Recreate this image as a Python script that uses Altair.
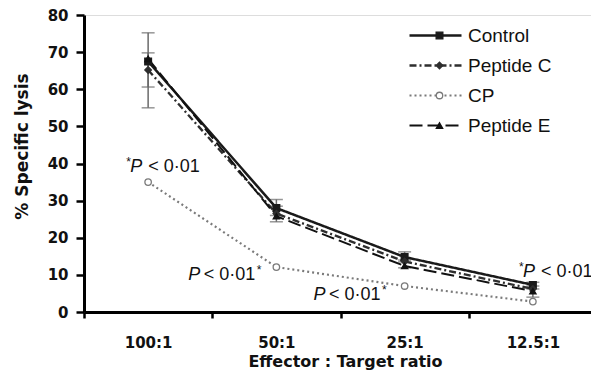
import altair as alt
import pandas as pd

ratios = ["100:1", "50:1", "25:1", "12.5:1"]
series = ["Control", "Peptide C", "CP", "Peptide E"]
control = [67.5, 28.0, 14.8, 7.3]
peptide_c = [65.2, 26.5, 13.6, 6.2]
cp = [35.0, 12.1, 7.0, 2.8]
peptide_e = [68.2, 25.8, 12.4, 5.6]

err_series = ["Control", "Peptide C", "Control", "Peptide C", "Control", "Peptide E", "Control", "Peptide E"]
err_ratio = ["100:1", "100:1", "50:1", "50:1", "25:1", "25:1", "12.5:1", "12.5:1"]
err_low = [55.0, 60.6, 26.0, 24.3, 14.0, 11.9, 6.2, 4.0]
err_high = [75.2, 69.8, 30.3, 28.5, 16.2, 13.5, 8.0, 7.0]

ann_ratio = ["100:1", "50:1", "25:1", "12.5:1"]
ann_value = [39.0, 10.0, 4.6, 10.8]
ann_star_side = ["left", "right", "right", "left"]
ann_dx = [-22, -15, -18, -14]

colors = ["#1a1a1a", "#2e2e2e", "#7a7a7a", "#111111"]
dashes = [[1, 0], [7, 3, 2, 3], [2, 3], [13, 5]]
shapes = ["square", "diamond", "circle", "triangle-up"]
fills = ["#1a1a1a", "#2e2e2e", "#ffffff", "#111111"]
widths = [2.5, 2, 1.6, 2.2]
psizes = [45, 40, 60, 40]

markers = [s + " marker" for s in series]

rows = []
for name, mk, vals in zip(series, markers, [control, peptide_c, cp, peptide_e]):
    for r, v in zip(ratios, vals):
        rows.append({"series": name, "marker": mk, "ratio": r, "value": v})
df = pd.DataFrame(rows)
err = pd.DataFrame({"series": err_series, "ratio": err_ratio, "lo": err_low, "hi": err_high})

FONT = "Liberation Sans"
AXFONT = "DejaVu Sans"

xscale = alt.Scale(type="band", domain=ratios, paddingInner=0, paddingOuter=0, range=[0, 513])
yscale = alt.Scale(domain=[0, 80], nice=False)

xaxis = alt.Axis(title="Effector : Target ratio", labelAngle=0, tickBand="extent",
                 labelFont=AXFONT, labelFontWeight="bold", labelFontSize=15, labelColor="#111",
                 titleFont=AXFONT, titleFontWeight="bold", titleFontSize=16, titleColor="#111",
                 titleX=261,
                 domainWidth=3, domainColor="#000", tickWidth=2.5, tickColor="#000", tickSize=6,
                 labelPadding=17, titlePadding=3, grid=False)
yaxis = alt.Axis(title="% Specific lysis", values=list(range(0, 81, 10)), labelOverlap=False,
                 labelFont=AXFONT, labelFontWeight="bold", labelFontSize=15, labelColor="#111",
                 titleFont=AXFONT, titleFontWeight="bold", titleFontSize=17, titleColor="#111",
                 titleY=131,
                 domainWidth=3, domainColor="#000", tickWidth=2.5, tickColor="#000", tickSize=8,
                 labelPadding=8, titlePadding=16, grid=False)


def X():
    return alt.X("ratio:N", scale=xscale, sort=ratios, axis=xaxis)


def Y(field="value"):
    return alt.Y(field + ":Q", scale=yscale, axis=yaxis)


line_legend = alt.Legend(title=None, orient="none", legendX=342, legendY=11,
                         symbolType="M-5.2,0H5.2", symbolSize=100, symbolStrokeWidth=2,
                         labelFont=FONT, labelFontSize=19, labelColor="#111",
                         rowPadding=10, labelOffset=23, padding=0)
lines = alt.Chart(df).mark_line().encode(
    x=X(),
    y=Y(),
    color=alt.Color("series:N", scale=alt.Scale(domain=series, range=colors), legend=line_legend),
    strokeDash=alt.StrokeDash("series:N", scale=alt.Scale(domain=series, range=dashes), legend=line_legend),
    strokeWidth=alt.StrokeWidth("series:N", scale=alt.Scale(domain=series, range=widths), legend=None),
    order=alt.Order("ratio_idx:Q"),
).transform_calculate(ratio_idx="indexof(" + str(ratios) + ", datum.ratio)")

rules = alt.Chart(err).mark_rule(color="#6a6a6a", strokeWidth=1.5).encode(
    x=X(), y=Y("lo"), y2="hi:Q")
cap_lo = alt.Chart(err).mark_tick(color="#6a6a6a", thickness=1.5, size=13).encode(
    x=X(), y=Y("lo"))
cap_hi = alt.Chart(err).mark_tick(color="#6a6a6a", thickness=1.5, size=13).encode(
    x=X(), y=Y("hi"))

plegend = alt.Legend(title=None, orient="none", legendX=346, legendY=11,
                     labelFont=FONT, labelFontSize=19, labelOpacity=0, labelExpr="''",
                     rowPadding=10, labelOffset=6, padding=0, symbolStrokeWidth=1.3)
points = alt.Chart(df).mark_point(filled=False, strokeWidth=1.3, opacity=1).encode(
    x=X(), y=Y(),
    shape=alt.Shape("marker:N", scale=alt.Scale(domain=markers, range=shapes), legend=plegend),
    fill=alt.Fill("marker:N", scale=alt.Scale(domain=markers, range=fills), legend=plegend),
    stroke=alt.Stroke("marker:N", scale=alt.Scale(domain=markers, range=colors), legend=plegend),
    size=alt.Size("marker:N", scale=alt.Scale(domain=markers, range=psizes), legend=plegend),
)

ann = pd.DataFrame({"ratio": ann_ratio, "value": ann_value})
layers = [rules, cap_lo, cap_hi, lines, points]
for i in range(len(ann_ratio)):
    d = ann.iloc[[i]]
    base = alt.Chart(d).encode(x=X(), y=Y())
    dx = ann_dx[i]
    if ann_star_side[i] == "left":
        layers.append(base.mark_text(text="*", align="left", dx=dx, dy=-5, font=FONT, fontSize=12, color="#111"))
        layers.append(base.mark_text(text="P", align="left", dx=dx + 4, font=FONT, fontSize=18, fontStyle="italic", color="#111"))
        layers.append(base.mark_text(text="< 0·01", align="left", dx=dx + 22, font=FONT, fontSize=18, color="#111"))
    else:
        layers.append(base.mark_text(text="*", align="right", dx=dx, dy=-5, font=FONT, fontSize=12, color="#111"))
        layers.append(base.mark_text(text="< 0·01", align="right", dx=dx - 6, font=FONT, fontSize=18, color="#111"))
        layers.append(base.mark_text(text="P", align="right", dx=dx - 61, font=FONT, fontSize=18, fontStyle="italic", color="#111"))

chart = alt.layer(*layers).properties(
    width=507, height=297,
    autosize=alt.AutoSizeParams(type="none"),
    padding={"left": 76, "top": 7, "right": 0, "bottom": 63},
).configure_view(stroke=None).configure(background="white")

chart.save("out.html", embed_options={"renderer": "svg", "actions": False})
